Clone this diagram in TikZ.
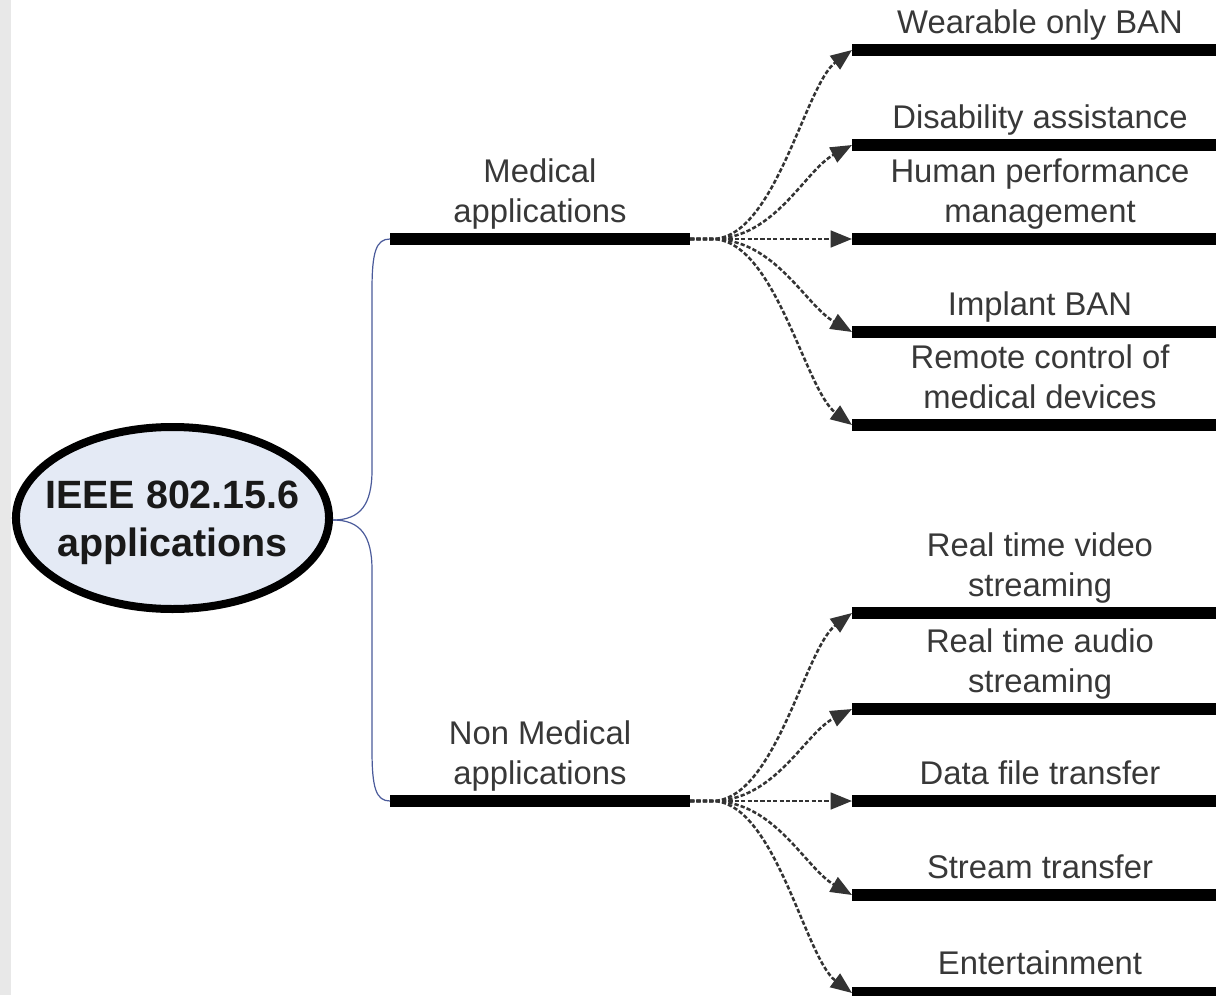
\documentclass[tikz,border=0pt]{standalone}
\usepackage{fontspec}
\setmainfont{Liberation Sans}
\usetikzlibrary{arrows.meta,shapes.geometric}
\definecolor{txt}{HTML}{383838}
\definecolor{elfill}{HTML}{E4EAF5}
\definecolor{link}{HTML}{4A5A9A}
\definecolor{strip}{HTML}{E8E8E8}
\tikzset{
  bar/.style={line width=8.5pt},
  lab/.style={anchor=south, text depth=0pt, inner sep=0pt, align=center,
    text=txt, font=\fontsize{24.6pt}{30pt}\selectfont},
  arr/.style={black!80, line width=1.9pt, dash pattern=on 3.2pt off 1.6pt,
    -{Triangle[length=16pt,width=12.5pt]}},
  brace/.style={link, line width=0.9pt},
  rootshape/.style={draw=black, line width=6pt, fill=elfill},
  roottext/.style={align=center, inner sep=0pt,
    font=\bfseries\fontsize{29.6pt}{36pt}\selectfont, text=black!90}
}
\begin{document}
\begin{tikzpicture}[x=0.75pt,y=-0.75pt]
\useasboundingbox (0,0) rectangle (1216,995);
\clip (0,0) rectangle (1216,995);
\fill[strip] (0,0) rectangle (11,995);

% root
\draw[rootshape] (172.5,518) ellipse [x radius=117.4pt, y radius=68.25pt];
\node[roottext] (root) at (172.5,523) {IEEE 802.15.6\\applications};
\coordinate (rootE) at (333,520);

% category bars
\coordinate (medL) at (390,239);
\coordinate (medR) at (690,239);
\coordinate (nonL) at (390,801);
\coordinate (nonR) at (690,801);
\draw[bar] (medL) -- (medR);
\draw[bar] (nonL) -- (nonR);
\node[lab] (medlab) at (540,223) {Medical\\applications};
\node[lab] (nonlab) at (540,785) {Non Medical\\applications};

% brace connectors
\draw[brace] (rootE) .. controls (360,520) and (372,505) .. (372,470)
  -- (372,290) .. controls (372,252) and (376,239) .. (medL);
\draw[brace] (rootE) .. controls (360,520) and (372,535) .. (372,570)
  -- (372,750) .. controls (372,788) and (376,801) .. (nonL);

% leaf bars and labels
\foreach \n/\y in {a/50,b/145,c/239,d/332,e/425,f/613,g/709,h/801,i/895,j/993}{
  \coordinate (\n) at (852,\y);
  \draw[bar] (\n) -- (1216,\y);
}
\node[lab] (la) at (1040,34) {Wearable only BAN};
\node[lab] (lb) at (1040,129) {Disability assistance};
\node[lab] (lc) at (1040,223) {Human performance\\management};
\node[lab] (ld) at (1040,316) {Implant BAN};
\node[lab] (le) at (1040,409) {Remote control of\\medical devices};
\node[lab] (lf) at (1040,597) {Real time video\\streaming};
\node[lab] (lg) at (1040,693) {Real time audio\\streaming};
\node[lab] (lh) at (1040,785) {Data file transfer};
\node[lab] (li) at (1040,879) {Stream transfer};
\node[lab] (lj) at (1040,975) {Entertainment};

% fan connectors (medical)
\draw[arr] (medR) -- (712,239) .. controls (775,239) and (805,85) .. (a);
\draw[arr] (medR) -- (712,239) .. controls (775,239) and (805,170) .. (b);
\draw[arr] (medR) -- (c);
\draw[arr] (medR) -- (712,239) .. controls (775,239) and (805,305) .. (d);
\draw[arr] (medR) -- (712,239) .. controls (775,239) and (805,390) .. (e);
% fan connectors (non medical)
\draw[arr] (nonR) -- (712,801) .. controls (775,801) and (805,648) .. (f);
\draw[arr] (nonR) -- (712,801) .. controls (775,801) and (805,733) .. (g);
\draw[arr] (nonR) -- (h);
\draw[arr] (nonR) -- (712,801) .. controls (775,801) and (805,868) .. (i);
\draw[arr] (nonR) -- (712,801) .. controls (775,801) and (805,958) .. (j);
\end{tikzpicture}
\end{document}
